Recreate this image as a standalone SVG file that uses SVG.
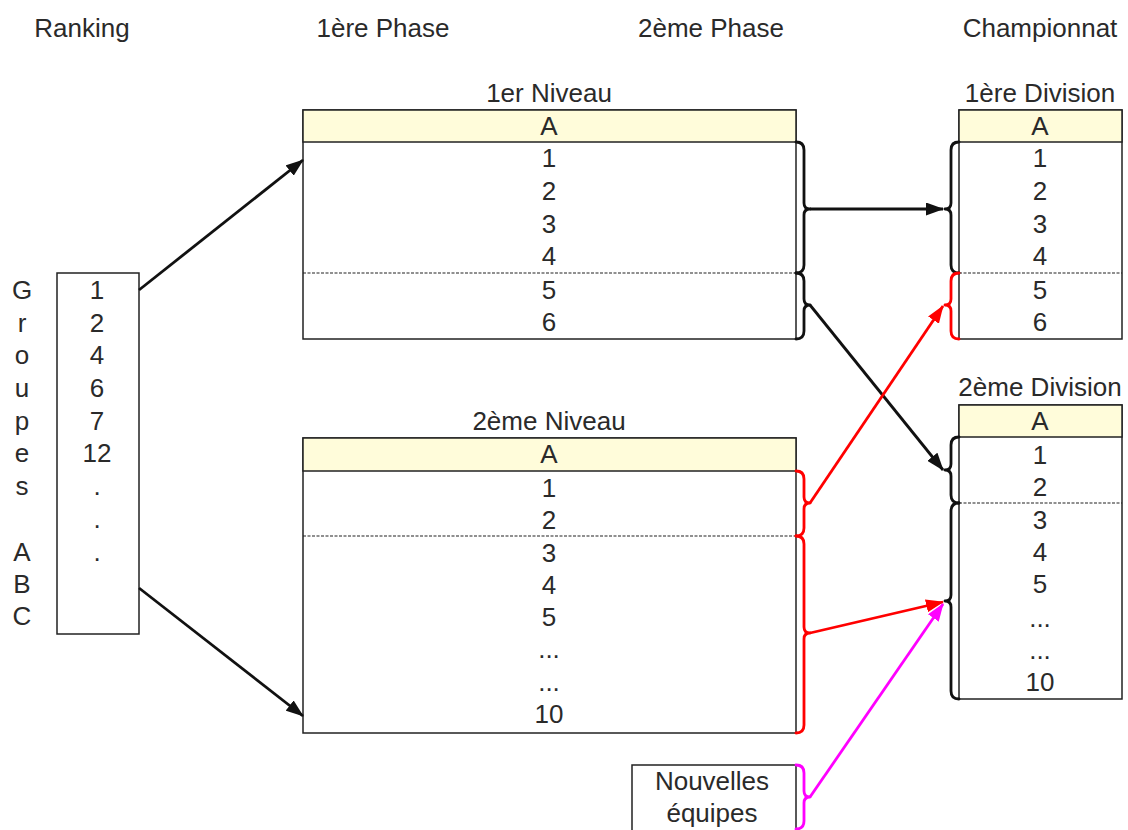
<svg xmlns="http://www.w3.org/2000/svg" width="1128" height="830" viewBox="0 0 1128 830">
<style>
text{font-family:"Liberation Sans",Arial,sans-serif;font-size:26px;fill:#2a2a2a;text-anchor:middle}
.box{fill:#fff;stroke:#222;stroke-width:1.5}
.hdr{fill:#fffcda;stroke:#222;stroke-width:1.5}
.dash{stroke:#222;stroke-width:1.2;stroke-dasharray:3 1.5;fill:none}
.br{fill:none;stroke-width:2.8;stroke-linejoin:round;stroke-linecap:round}
.k{stroke:#111}
.r{stroke:#ff0000}
.m{stroke:#ff00ff}
.ln{fill:none;stroke-width:2.8}
</style>
<defs>
<marker id="ak" markerWidth="18" markerHeight="13" refX="17" refY="6.5" orient="auto" markerUnits="userSpaceOnUse"><path d="M0,0 L18,6.5 L0,13 Z" fill="#111"/></marker>
<marker id="ar" markerWidth="18" markerHeight="13" refX="17" refY="6.5" orient="auto" markerUnits="userSpaceOnUse"><path d="M0,0 L18,6.5 L0,13 Z" fill="#ff0000"/></marker>
<marker id="am" markerWidth="18" markerHeight="13" refX="17" refY="6.5" orient="auto" markerUnits="userSpaceOnUse"><path d="M0,0 L18,6.5 L0,13 Z" fill="#ff00ff"/></marker>
</defs>
<rect width="1128" height="830" fill="#fff"/>

<g id="titles">
<text x="82" y="37">Ranking</text>
<text x="383" y="37">1ère Phase</text>
<text x="711" y="37">2ème Phase</text>
<text x="1040" y="37">Championnat</text>
</g>

<g id="ranking">
<rect class="box" x="57" y="273" width="82" height="361"/>
<text x="97" y="299">1</text>
<text x="97" y="332">2</text>
<text x="97" y="364">4</text>
<text x="97" y="397">6</text>
<text x="97" y="430">7</text>
<text x="97" y="462">12</text>
<text x="97" y="495">.</text>
<text x="97" y="528">.</text>
<text x="97" y="561">.</text>
<text x="22" y="299">G</text>
<text x="22" y="332">r</text>
<text x="22" y="364">o</text>
<text x="22" y="397">u</text>
<text x="22" y="430">p</text>
<text x="22" y="462">e</text>
<text x="22" y="495">s</text>
<text x="22" y="561">A</text>
<text x="22" y="593">B</text>
<text x="22" y="625">C</text>
</g>

<g id="niveau1">
<text x="549" y="102">1er Niveau</text>
<rect class="box" x="303" y="110" width="493" height="229"/>
<rect class="hdr" x="303" y="110" width="493" height="32"/>
<line class="dash" x1="303" y1="273" x2="796" y2="273"/>
<text x="549" y="135">A</text>
<text x="549" y="167">1</text>
<text x="549" y="200">2</text>
<text x="549" y="233">3</text>
<text x="549" y="265">4</text>
<text x="549" y="299">5</text>
<text x="549" y="331">6</text>
</g>

<g id="niveau2">
<text x="549" y="430">2ème Niveau</text>
<rect class="box" x="303" y="438" width="493" height="295"/>
<rect class="hdr" x="303" y="438" width="493" height="33"/>
<line class="dash" x1="303" y1="536" x2="796" y2="536"/>
<text x="549" y="463">A</text>
<text x="549" y="497">1</text>
<text x="549" y="529">2</text>
<text x="549" y="562">3</text>
<text x="549" y="594">4</text>
<text x="549" y="626">5</text>
<text x="549" y="658">...</text>
<text x="549" y="691">...</text>
<text x="549" y="723">10</text>
</g>

<g id="division1">
<text x="1040" y="102">1ère Division</text>
<rect class="box" x="959" y="110" width="163" height="229"/>
<rect class="hdr" x="959" y="110" width="163" height="32"/>
<line class="dash" x1="959" y1="273" x2="1122" y2="273"/>
<text x="1040" y="135">A</text>
<text x="1040" y="167">1</text>
<text x="1040" y="200">2</text>
<text x="1040" y="233">3</text>
<text x="1040" y="265">4</text>
<text x="1040" y="299">5</text>
<text x="1040" y="331">6</text>
</g>

<g id="division2">
<text x="1040" y="396">2ème Division</text>
<rect class="box" x="959" y="405" width="163" height="294"/>
<rect class="hdr" x="959" y="405" width="163" height="32"/>
<line class="dash" x1="959" y1="503" x2="1122" y2="503"/>
<text x="1040" y="430">A</text>
<text x="1040" y="464">1</text>
<text x="1040" y="496">2</text>
<text x="1040" y="529">3</text>
<text x="1040" y="561">4</text>
<text x="1040" y="593">5</text>
<text x="1040" y="627">...</text>
<text x="1040" y="659">...</text>
<text x="1040" y="691">10</text>
</g>

<g id="nouvelles">
<rect class="box" x="632" y="765" width="164" height="75"/>
<text x="712" y="790">Nouvelles</text>
<text x="712" y="822">équipes</text>
</g>

<g id="connectors">
<path class="br k" d="M796,142 Q804,142 804,150 L804,203 Q804,209 810,209 Q804,209 804,215 L804,265 Q804,273 796,273"/>
<path class="br k" d="M796,273 Q804,273 804,281 L804,299 Q804,305 810,305 Q804,305 804,311 L804,331 Q804,339 796,339"/>
<path class="br r" d="M796,471 Q804,471 804,479 L804,497 Q804,503 810,503 Q804,503 804,509 L804,528 Q804,536 796,536"/>
<path class="br r" d="M796,536 Q804,536 804,544 L804,627 Q804,633 810,633 Q804,633 804,639 L804,725 Q804,733 796,733"/>
<path class="br m" d="M796,765 Q804,765 804,773 L804,791 Q804,797 810,797 Q804,797 804,803 L804,821 Q804,829 796,829"/>
<path class="br k" d="M959,142 Q951,142 951,150 L951,203 Q951,209 945,209 Q951,209 951,215 L951,265 Q951,273 959,273"/>
<path class="br r" d="M959,273 Q951,273 951,281 L951,299 Q951,305 945,305 Q951,305 951,311 L951,331 Q951,339 959,339"/>
<path class="br k" d="M959,437 Q951,437 951,445 L951,464 Q951,470 945,470 Q951,470 951,476 L951,495 Q951,503 959,503"/>
<path class="br k" d="M959,503 Q951,503 951,511 L951,595 Q951,601 945,601 Q951,601 951,607 L951,691 Q951,699 959,699"/>
<line class="ln k" x1="139" y1="290" x2="303" y2="160" marker-end="url(#ak)"/>
<line class="ln k" x1="139" y1="588" x2="303" y2="716" marker-end="url(#ak)"/>
<line class="ln k" x1="810" y1="209" x2="943" y2="209" marker-end="url(#ak)"/>
<line class="ln k" x1="810" y1="305" x2="943" y2="470" marker-end="url(#ak)"/>
<line class="ln r" x1="810" y1="503" x2="943" y2="306" marker-end="url(#ar)"/>
<line class="ln r" x1="810" y1="633" x2="943" y2="602" marker-end="url(#ar)"/>
<line class="ln m" x1="810" y1="797" x2="943" y2="604" marker-end="url(#am)"/>
</g>
</svg>
